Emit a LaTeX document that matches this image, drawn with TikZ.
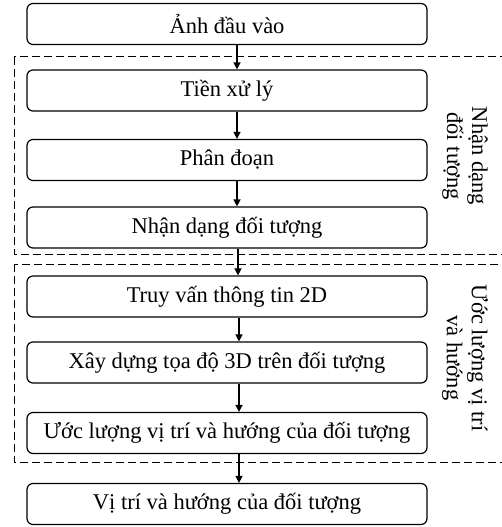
\documentclass[tikz,border=0pt]{standalone}
\usepackage{fontspec}
\setmainfont{Liberation Serif}
\usetikzlibrary{arrows.meta}
\begin{document}
\begin{tikzpicture}[x=1pt,y=-1pt,
  box/.style={draw, line width=1.2pt, rounded corners=6pt, minimum width=400pt, minimum height=41pt, inner sep=0pt, font=\fontsize{22.5}{24}\selectfont},
  arr/.style={-{Triangle[length=7pt,width=7pt]}, line width=1.4pt},
  grp/.style={draw, line width=1pt, dash pattern=on 8pt off 4pt},
  lab/.style={rotate=-90, align=center, font=\fontsize{22.5}{25}\selectfont}]
\useasboundingbox (0,0) rectangle (502,527);
\clip (0,0) rectangle (502,527);
\draw[grp] (14,57) rectangle (520,254);
\draw[grp] (14,264) rectangle (520,462);
\node[box] (b1) at (227,24) {Ảnh đầu vào};
\node[box] (b2) at (227,90.5) {Tiền xử lý};
\node[box] (b3) at (227,160) {Phân đoạn};
\node[box] (b4) at (227,227.5) {Nhận dạng đối tượng};
\node[box] (b5) at (227,296.5) {Truy vấn thông tin 2D};
\node[box] (b6) at (227,362.5) {Xây dựng tọa độ 3D trên đối tượng};
\node[box] (b7) at (227,433) {Ước lượng vị trí và hướng của đối tượng};
\node[box] (b8) at (227,504) {Vị trí và hướng của đối tượng};
\draw[arr] (b1.south -| 237,0) -- (b2.north -| 237,0);
\draw[arr] (b2.south -| 237,0) -- (b3.north -| 237,0);
\draw[arr] (b3.south -| 237,0) -- (b4.north -| 237,0);
\draw[arr] (b4.south -| 238,0) -- (b5.north -| 238,0);
\draw[arr] (b5.south -| 239,0) -- (b6.north -| 239,0);
\draw[arr] (b6.south -| 239,0) -- (b7.north -| 239,0);
\draw[arr] (b7.south -| 239,0) -- (b8.north -| 239,0);
\node[lab] (l1) at (465,156) {Nhận dạng\\đối tượng};
\node[lab] (l2) at (465,358) {Ước lượng vị trí\\và hướng};
\end{tikzpicture}
\end{document}
